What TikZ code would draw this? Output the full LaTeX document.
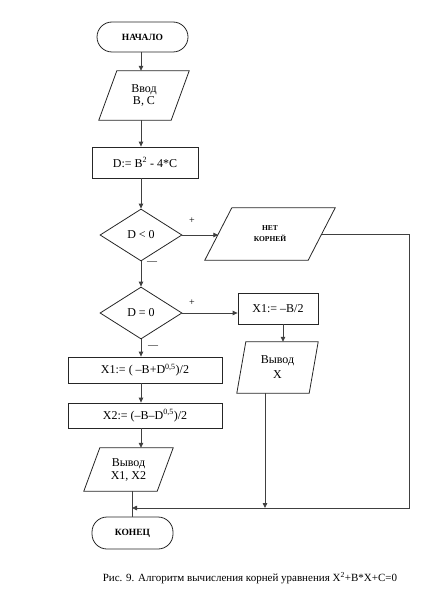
\documentclass[tikz,border=0pt]{standalone}
\usepackage{fontspec}
\setmainfont{Liberation Serif}
\usetikzlibrary{shapes.geometric,arrows.meta,calc}
\newcommand\drawpara[2]{\draw[shapeline] ([xshift=-#2]#1.south west) -- ([xshift=#2]#1.north west) -- ([xshift=#2]#1.north east) -- ([xshift=-#2]#1.south east) -- cycle;}
\begin{document}
\begin{tikzpicture}[x=1pt,y=-1pt,
  shapeline/.style={draw=black!85, line width=0.8pt},
  mainfont/.style={font=\fontsize{12}{13}\selectfont},
  term/.style={shapeline, rectangle, rounded corners=15pt, inner sep=0pt, font=\fontsize{9.5}{11}\selectfont\bfseries},
  proc/.style={shapeline, rectangle, inner sep=0pt, mainfont},
  dec/.style={shapeline, diamond, inner sep=0pt, minimum width=82pt, minimum height=52pt, aspect=1.58, mainfont},
  para/.style={rectangle, inner sep=0pt, align=center, mainfont},
  conn/.style={draw=black!75, line width=0.8pt},
  arr/.style={conn, -{Triangle[length=5pt,width=4.5pt]}},
  lbl/.style={inner sep=0pt, font=\fontsize{10}{11}\selectfont}
]
\useasboundingbox (0,0) rectangle (435,591);
\coordinate (col) at (141,0);
\coordinate (colx) at (283,0);
\coordinate (colx2) at (265,0);
\coordinate (colend) at (132,0);
\coordinate (rr) at (409,0);
\coordinate (bot) at (0,508);

\node[term, minimum width=91pt, minimum height=30pt] (start) at (142.5,37) {НАЧАЛО};
\node[para, minimum width=72pt, minimum height=49pt, font=\fontsize{12}{12.5}\selectfont] (inp) at (144,95.5) {Ввод\\B, C};
\drawpara{inp}{9pt}
\node[proc, minimum width=106pt, minimum height=31pt] (d) at (145,162.5) {D:= B\textsuperscript{2} - 4*C};
\node[dec] (c1) at (141,235) {D < 0};
\node[para, minimum width=103pt, minimum height=52pt, font=\fontsize{7.5}{11}\selectfont\bfseries] (nk) at (270,234) {НЕТ\\КОРНЕЙ};
\drawpara{nk}{13.5pt}
\node[dec] (c2) at (141,313) {D = 0};
\node[proc, minimum width=80pt, minimum height=31pt] (x1b) at (278,308.5) {X1:= –B/2};
\node[para, minimum width=72pt, minimum height=51pt, font=\fontsize{12}{15}\selectfont] (outx) at (277.5,367.5) {Вывод\\X};
\drawpara{outx}{4.5pt}
\node[proc, minimum width=154pt, minimum height=26pt] (x1) at (145,370) {X1:= ( –B+D\textsuperscript{0,5})/2};
\node[proc, minimum width=154pt, minimum height=25pt] (x2) at (145,415.5) {X2:= (–B–D\textsuperscript{0,5})/2};
\node[para, minimum width=73pt, minimum height=43pt, font=\fontsize{12}{13}\selectfont] (out) at (128.5,469.5) {Вывод\\X1, X2};
\drawpara{out}{8pt}
\node[term, minimum width=81pt, minimum height=32pt] (end) at (132.5,533) {КОНЕЦ};

\node[lbl] (p1) at (192,221) {+};
\node[lbl] (m1) at (152,263) {\textemdash};
\node[lbl] (p2) at (192,303) {+};
\node[lbl] (m2) at (153,347) {\textemdash};

\draw[arr] (start.south -| col) -- (inp.north -| col);
\draw[arr] (inp.south -| col) -- (d.north -| col);
\draw[arr] (d.south -| col) -- (c1.north);
\draw[arr] (c1.east) -- (c1.east -| nk.west);
\draw[arr] (c1.south) -- (c2.north);
\draw[arr] (c2.east) -- (c2.east -| x1b.west);
\draw[arr] (c2.south) -- (x1.north -| col);
\draw[arr] (x1.south -| col) -- (x2.north -| col);
\draw[arr] (x2.south -| col) -- (out.north -| col);
\draw[arr] (x1b.south -| colx) -- (outx.north -| colx);
\draw[arr] (outx.south -| colx2) -- (bot -| colx2);
\draw[arr] (nk.east) -- (nk.east -| rr) -- (bot -| rr) -- (bot -| colend);
\draw[conn] (out.south -| colend) -- (end.north -| colend);

\node[inner sep=0pt, font=\fontsize{11}{12}\selectfont] (cap) at (250,578) {Рис. 9. Алгоритм вычисления корней уравнения X\textsuperscript{2}+B*X+C=0};
\end{tikzpicture}
\end{document}
